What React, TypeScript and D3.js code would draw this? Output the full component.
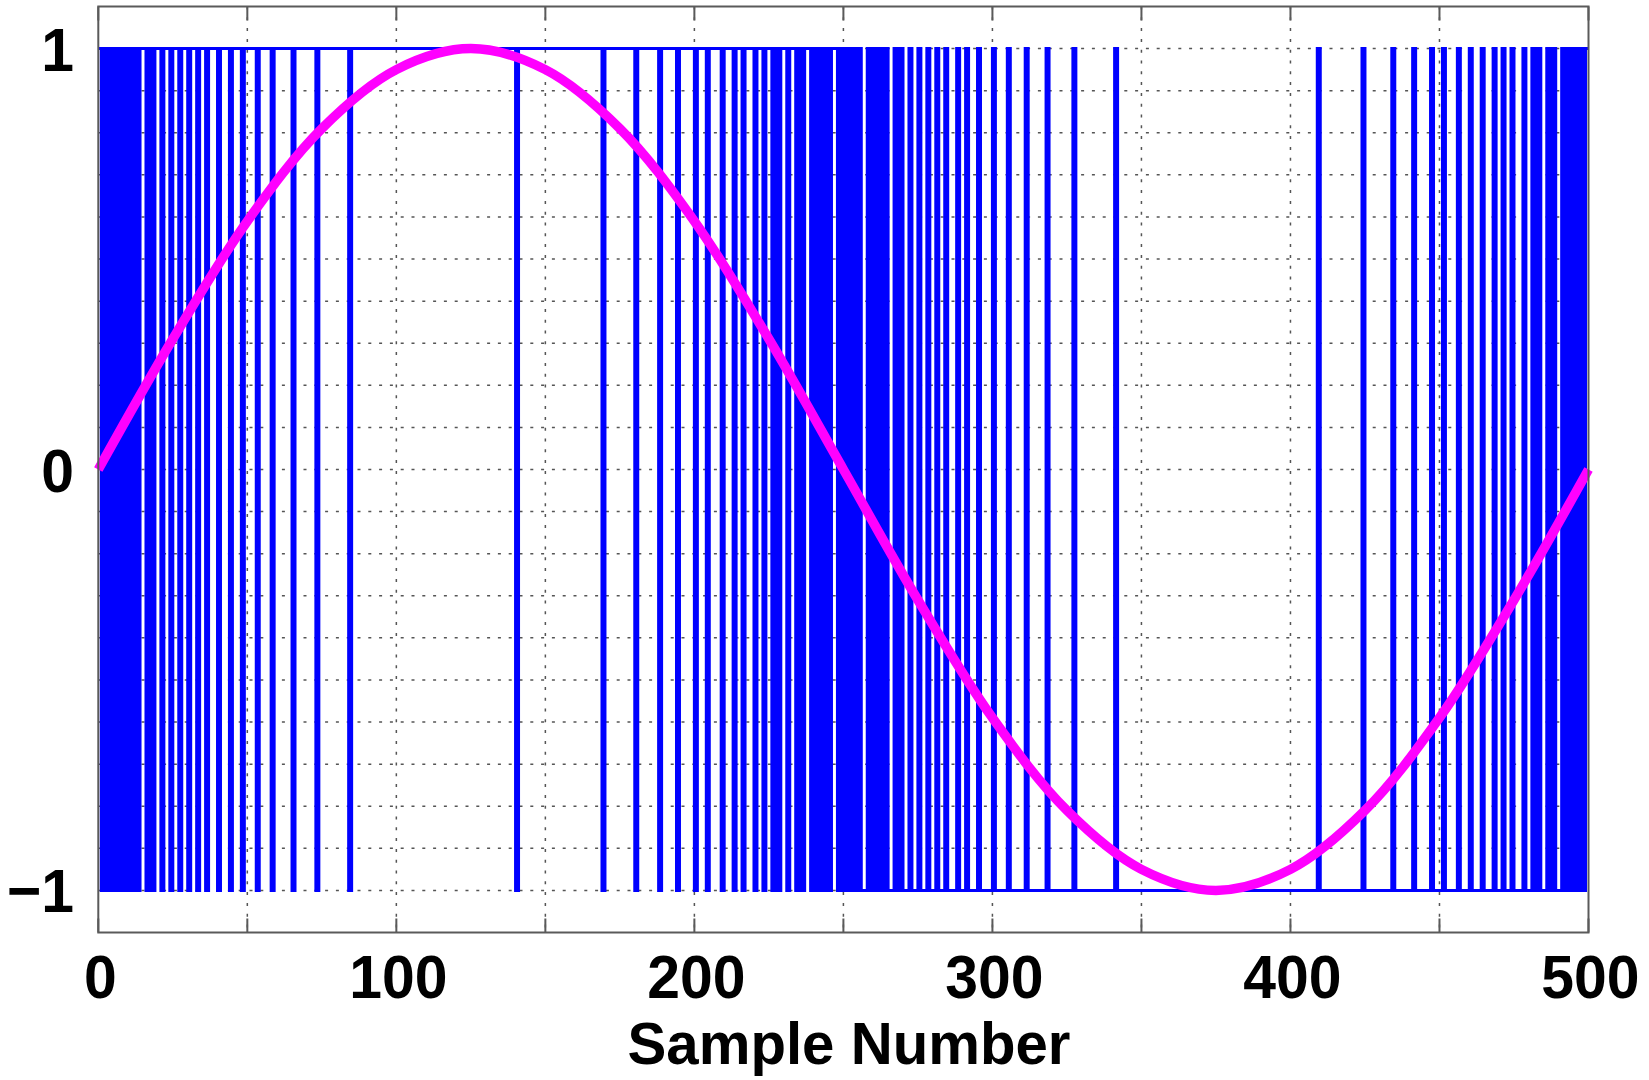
import React from 'react';
import * as d3 from 'd3';

// ---- data ----
const xTickValues = [0, 50, 100, 150, 200, 250, 300, 350, 400, 450, 500];
const xTickLabels = ['0', '', '100', '', '200', '', '300', '', '400', '', '500'];
const yTickValues = [-1, -0.9, -0.8, -0.7, -0.6, -0.5, -0.4, -0.3, -0.2, -0.1, 0, 0.1, 0.2, 0.3, 0.4, 0.5, 0.6, 0.7, 0.8, 0.9, 1];
const yTickLabels = ['\u22121', '', '', '', '', '', '', '', '', '', '0', '', '', '', '', '', '', '', '', '', '1'];
const xAxisTitle = 'Sample Number';

// input sine (pink), read every 25 samples
const sineSamples = [0, 25, 50, 75, 100, 125, 150, 175, 200, 225, 250, 275, 300, 325, 350, 375, 400, 425, 450, 475, 500];
const sineValues = [0, 0.31, 0.59, 0.81, 0.95, 1.0, 0.95, 0.81, 0.59, 0.31, 0, -0.31, -0.59, -0.81, -0.95, -1.0, -0.95, -0.81, -0.59, -0.31, 0];

// 1-bit output (blue): samples 0..249 are +1 except these
const lowSamplesFirstHalf = [1, 3, 5, 7, 9, 11, 13, 16, 18, 21, 24, 27, 30, 33, 36, 40, 44, 48, 53, 58, 65, 73, 84, 140, 169, 180, 188, 194, 200, 204, 209, 213, 216, 220, 223, 226, 228, 231, 234, 236, 239, 241, 243, 245, 248];
// samples 250..499 are -1 except these
const highSamplesSecondHalf = [251, 253, 255, 258, 260, 262, 264, 267, 269, 272, 275, 278, 281, 284, 288, 291, 295, 300, 305, 311, 318, 327, 341, 409, 424, 434, 441, 447, 451, 456, 460, 464, 468, 471, 474, 478, 481, 483, 486, 488, 491, 493, 495, 497, 499];
const sampleCount = 500;

// ---- layout ----
const W = 1649;
const H = 1080;
const L = 98.3;
const R = 1588.5;
const T = 6.5;
const B = 932.5;
const AXIS = '#5a5a5a';
const FONT = '"Liberation Sans", Arial, Helvetica, sans-serif';
const FS = 62;
const SX = 0.95;

export default function App() {
  const x = d3.scaleLinear().domain([0, 500]).range([L, R]);
  const y = d3.scaleLinear().domain([-1.1, 1.1]).range([B, T]);

  const lowSet = new Set(lowSamplesFirstHalf);
  const highSet = new Set(highSamplesSecondHalf);
  const bits: [number, number][] = [];
  for (let n = 0; n < sampleCount; n++) {
    let v: number;
    if (n < 250) v = lowSet.has(n) ? -1 : 1;
    else v = highSet.has(n) ? 1 : -1;
    bits.push([n, v]);
  }
  bits.push([sampleCount, bits[sampleCount - 1][1]]);

  const stair = d3
    .line<[number, number]>()
    .x((d) => x(d[0]))
    .y((d) => y(d[1]))
    .curve(d3.curveStepAfter)(bits) as string;

  const sinePts = sineSamples.map((s, i) => [s, sineValues[i]] as [number, number]);
  const sinePath = d3
    .line<[number, number]>()
    .x((d) => x(d[0]))
    .y((d) => y(d[1]))
    .curve(d3.curveCatmullRom.alpha(0.5))(sinePts) as string;

  const tickLen = 14;

  return (
    <svg width={W} height={H} style={{ position: 'absolute', left: 0, top: 0, background: '#fff' }}>
      <rect x={0} y={0} width={W} height={H} fill="#fff" />
      {/* grid */}
      <g stroke="#555" strokeWidth={1.5} strokeDasharray="3 7.8" fill="none">
        {xTickValues.slice(1, -1).map((v) => (
          <line key={'gx' + v} x1={x(v)} x2={x(v)} y1={T} y2={B} />
        ))}
        {yTickValues.map((v) => (
          <line key={'gy' + v} x1={L} x2={R} y1={y(v)} y2={y(v)} />
        ))}
      </g>
      {/* x ticks */}
      <g stroke={AXIS} strokeWidth={2}>
        {xTickValues.map((v) => (
          <g key={'tx' + v}>
            <line x1={x(v)} x2={x(v)} y1={B} y2={B - tickLen} />
            <line x1={x(v)} x2={x(v)} y1={T} y2={T + tickLen} />
          </g>
        ))}
      </g>
      {/* bitstream */}
      <path d={stair} fill="none" stroke="#0000ff" strokeWidth={3} strokeLinejoin="miter" />
      {/* sine */}
      <path d={sinePath} fill="none" stroke="#ff00ff" strokeWidth={9.5} strokeLinecap="butt" />
      {/* frame */}
      <rect x={L} y={T} width={R - L} height={B - T} fill="none" stroke={AXIS} strokeWidth={2} />
      {/* labels */}
      <g fontFamily={FONT} fontWeight="bold" fontSize={FS} fill="#000">
        {xTickValues.map((v, i) =>
          xTickLabels[i] ? (
            <text key={'lx' + v} transform={`translate(${x(v) + 2},998) scale(${SX},1)`} textAnchor="middle">
              {xTickLabels[i]}
            </text>
          ) : null
        )}
        {yTickValues.map((v, i) =>
          yTickLabels[i] ? (
            <text key={'ly' + v} transform={`translate(74,${y(v) + 22}) scale(${SX},1)`} textAnchor="end">
              {yTickLabels[i]}
            </text>
          ) : null
        )}
        <text transform={`translate(849,1064) scale(0.97,1)`} textAnchor="middle" fontSize={60}>
          {xAxisTitle}
        </text>
      </g>
    </svg>
  );
}
